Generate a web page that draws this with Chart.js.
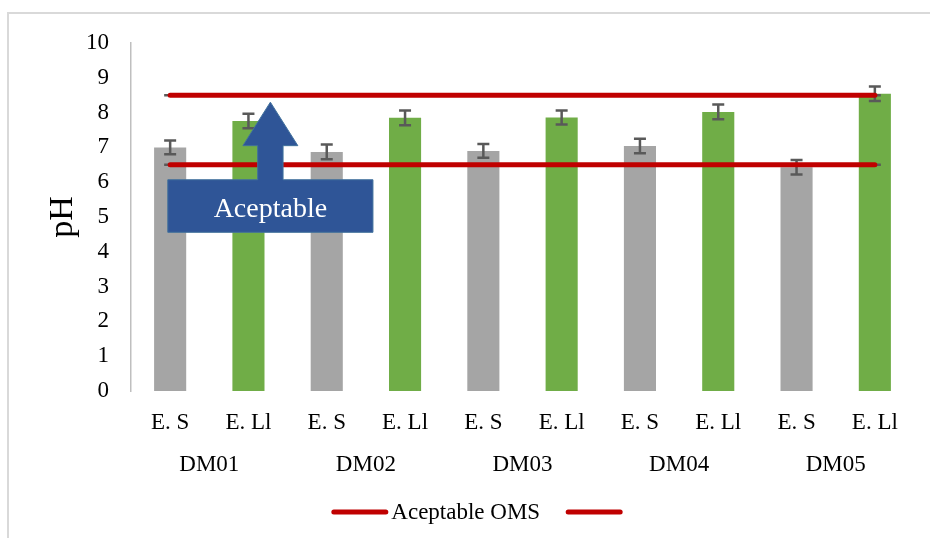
<!DOCTYPE html>
<html>
<head>
<meta charset="utf-8">
<script src="https://cdn.jsdelivr.net/npm/chart.js@4"></script>
<style>
body{margin:0;background:#fff}
#wrap{position:relative;width:930px;height:538px}
#frame{position:absolute;left:7px;top:12px;right:0;bottom:0;border-left:2px solid #D9D9D9;border-top:2px solid #D9D9D9}
#myChart{position:absolute;left:0;top:0}
</style>
</head>
<body>
<div id="wrap"><div id="frame"></div><canvas id="myChart" width="930" height="538"></canvas></div>
<script>
const sitios = ['DM01', 'DM02', 'DM03', 'DM04', 'DM05'];
const muestras = ['E. S', 'E. Ll', 'E. S', 'E. Ll', 'E. S', 'E. Ll', 'E. S', 'E. Ll', 'E. S', 'E. Ll'];
const phValores = [7.0, 7.76, 6.87, 7.85, 6.9, 7.86, 7.04, 8.02, 6.43, 8.54];
const phError = [0.2, 0.21, 0.21, 0.21, 0.2, 0.2, 0.21, 0.21, 0.21, 0.21];
const limiteInferior = [6.5, 6.5, 6.5, 6.5, 6.5, 6.5, 6.5, 6.5, 6.5, 6.5];
const limiteSuperior = [8.5, 8.5, 8.5, 8.5, 8.5, 8.5, 8.5, 8.5, 8.5, 8.5];
const sinError = [0, 0, 0, 0, 0, 0, 0, 0, 0, 0];
const yTicks = [0, 1, 2, 3, 4, 5, 6, 7, 8, 9, 10];

const fuente = 'Liberation Serif';
const colores = muestras.map(m => m === 'E. S' ? '#A5A5A5' : '#70AD47');

// barras de error (las de las lineas quedan debajo de la linea)
function dibujarError(chart, index) {
    const ds = chart.data.datasets[index];
    if (!ds.errores) return;
    const meta = chart.getDatasetMeta(index);
    const y = chart.scales.y;
    const ctx = chart.ctx;
    ctx.save();
    ctx.strokeStyle = '#595959';
    ctx.lineWidth = 2.5;
    meta.data.forEach(function (el, i) {
        const v = ds.data[i], e = ds.errores[i];
        const y1 = y.getPixelForValue(v + e), y2 = y.getPixelForValue(v - e);
        ctx.beginPath();
        ctx.moveTo(el.x, y1); ctx.lineTo(el.x, y2);
        ctx.moveTo(el.x - 6, y1); ctx.lineTo(el.x + 6, y1);
        ctx.moveTo(el.x - 6, y2); ctx.lineTo(el.x + 6, y2);
        ctx.stroke();
    });
    ctx.restore();
}

const errorBars = {
    id: 'errorBars',
    beforeDatasetDraw(chart, args) {
        if (chart.data.datasets[args.index].type === 'line') dibujarError(chart, args.index);
    },
    afterDatasetDraw(chart, args) {
        if (chart.data.datasets[args.index].type === 'bar') dibujarError(chart, args.index);
    }
};

// flecha "Aceptable" (en unidades de categoria y de pH)
const flecha = {centro: 1.28, punta: 8.3, baseCabeza: 7.05, cajaArriba: 6.07, cajaAbajo: 4.56,
    anchoCaja: 1.31, anchoTallo: 0.162, anchoCabeza: 0.351, texto: 'Aceptable'};

const flechaPlugin = {
    id: 'flecha',
    afterDatasetsDraw(chart) {
        const x = chart.scales.x, y = chart.scales.y, ctx = chart.ctx;
        const paso = x.getPixelForValue(1) - x.getPixelForValue(0);
        const cx = x.getPixelForValue(0) + flecha.centro * paso;
        const top = y.getPixelForValue(flecha.cajaArriba), bot = y.getPixelForValue(flecha.cajaAbajo);
        const hb = y.getPixelForValue(flecha.baseCabeza), tip = y.getPixelForValue(flecha.punta);
        const wc = flecha.anchoCaja * paso, wt = flecha.anchoTallo * paso, wh = flecha.anchoCabeza * paso;
        ctx.save();
        ctx.fillStyle = '#2F5597';
        ctx.strokeStyle = '#41719C';
        ctx.lineWidth = 1;
        ctx.beginPath();
        ctx.moveTo(cx - wc, bot); ctx.lineTo(cx + wc, bot); ctx.lineTo(cx + wc, top);
        ctx.lineTo(cx + wt, top); ctx.lineTo(cx + wt, hb); ctx.lineTo(cx + wh, hb);
        ctx.lineTo(cx, tip); ctx.lineTo(cx - wh, hb); ctx.lineTo(cx - wt, hb);
        ctx.lineTo(cx - wt, top); ctx.lineTo(cx - wc, top); ctx.closePath();
        ctx.fill(); ctx.stroke();
        ctx.fillStyle = '#FFFFFF';
        ctx.font = '28px "' + fuente + '"';
        ctx.textAlign = 'center';
        ctx.textBaseline = 'middle';
        ctx.fillText(flecha.texto, cx, (top + bot) / 2 + 4);
        ctx.restore();
    }
};

// leyenda solo con las lineas
const leyenda = {
    id: 'leyenda',
    afterDraw(chart) {
        const ctx = chart.ctx;
        const items = chart.data.datasets.filter(d => d.type === 'line');
        ctx.save();
        ctx.font = '23px "' + fuente + '"';
        const largo = 52, gapTexto = 5.5, gapItem = 28;
        let total = 0;
        items.forEach(function (d, i) {
            total += largo;
            if (d.label) total += gapTexto + ctx.measureText(d.label).width;
            if (i < items.length - 1) total += gapItem;
        });
        let x = chart.width / 2 + 12 - total / 2;
        const yl = 512;
        items.forEach(function (d) {
            ctx.strokeStyle = d.borderColor;
            ctx.lineWidth = 5;
            ctx.lineCap = 'round';
            ctx.beginPath(); ctx.moveTo(x, yl); ctx.lineTo(x + largo, yl); ctx.stroke();
            x += largo;
            if (d.label) {
                ctx.fillStyle = '#000';
                ctx.textBaseline = 'middle';
                ctx.fillText(d.label, x + gapTexto, yl + 1);
                x += gapTexto + ctx.measureText(d.label).width;
            }
            x += gapItem;
        });
        ctx.restore();
    }
};

const ctx = document.getElementById('myChart');

new Chart(ctx, {
    data: {
        labels: muestras,
        datasets: [{
            type: 'line',
            label: 'Aceptable OMS',
            data: limiteInferior,
            errores: sinError,
            borderColor: '#C00000',
            borderWidth: 5,
            borderCapStyle: 'round',
            pointRadius: 0,
            fill: false
        }, {
            type: 'line',
            label: '',
            data: limiteSuperior,
            errores: sinError,
            borderColor: '#C00000',
            borderWidth: 5,
            borderCapStyle: 'round',
            pointRadius: 0,
            fill: false
        }, {
            type: 'bar',
            label: 'pH',
            data: phValores,
            errores: phError,
            backgroundColor: colores,
            categoryPercentage: 1,
            barPercentage: 0.41
        }]
    },
    options: {
        responsive: false,
        animation: false,
        layout: {padding: {top: 43, right: 16, bottom: 50, left: 0}},
        plugins: {
            legend: {display: false},
            tooltip: {enabled: false}
        },
        scales: {
            x: {
                type: 'category',
                grid: {display: false, drawTicks: false},
                border: {display: false},
                ticks: {color: '#000', font: {family: fuente, size: 23}, padding: 18, maxRotation: 0},
                afterFit: function (s) { s.height = 52; }
            },
            x2: {
                type: 'category',
                labels: sitios,
                position: 'bottom',
                offset: true,
                grid: {display: false, drawTicks: false},
                border: {display: false},
                ticks: {color: '#000', font: {family: fuente, size: 23}, padding: 8, maxRotation: 0},
                afterFit: function (s) { s.height = 45; }
            },
            y: {
                min: 0,
                max: 10,
                afterBuildTicks: function (s) { s.ticks = yTicks.map(v => ({value: v})); },
                grid: {display: false, drawTicks: false},
                border: {display: true, color: '#BFBFBF', width: 1.5},
                ticks: {color: '#000', font: {family: fuente, size: 23}, padding: 22},
                title: {display: true, text: 'pH', color: '#000', font: {family: fuente, size: 34}, padding: {top: 43, bottom: 0}},
                afterFit: function (s) { s.width = 131; }
            }
        }
    },
    plugins: [errorBars, flechaPlugin, leyenda]
});
</script>
</body>
</html>
